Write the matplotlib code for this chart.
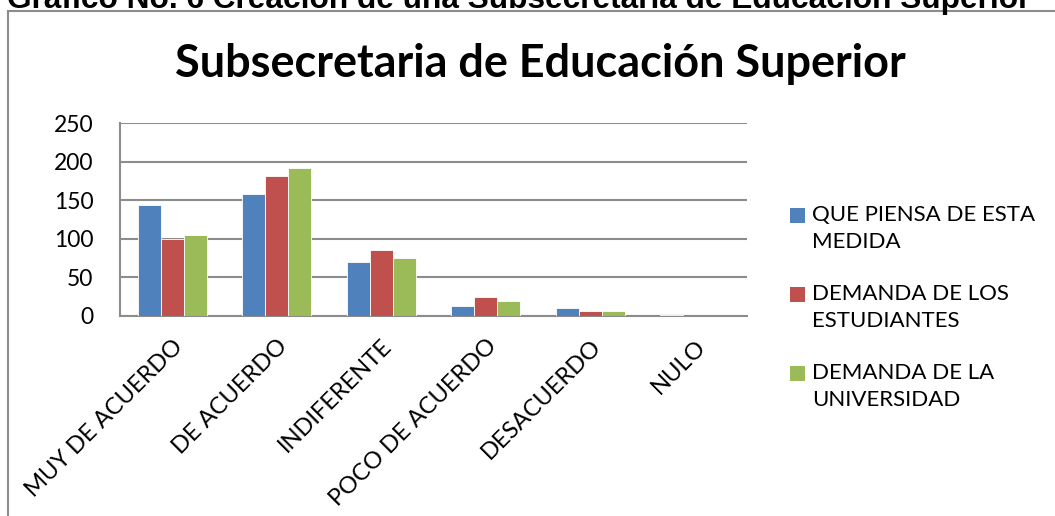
import numpy as np
import matplotlib
matplotlib.use("Agg")
import matplotlib.pyplot as plt
from matplotlib.patches import Rectangle

categorias = ["MUY DE ACUERDO", "DE ACUERDO", "INDIFERENTE",
              "POCO DE ACUERDO", "DESACUERDO", "NULO"]
series = ["QUE PIENSA DE ESTA\nMEDIDA", "DEMANDA DE LOS\nESTUDIANTES",
          "DEMANDA DE LA\nUNIVERSIDAD"]
que_piensa = [144, 158, 70, 13, 11, 1]
demanda_estudiantes = [100, 181, 86, 25, 7, 0]
demanda_universidad = [105, 192, 75, 20, 7, 0]
colores = ["#4F81BD", "#C0504D", "#9BBB59"]

W, H = 1055, 516
fig = plt.figure(figsize=(W / 100, H / 100), dpi=100)
plt.rcParams['font.family'] = ['Lato', 'DejaVu Sans']

# marco exterior del grafico
fig.patches.append(Rectangle((8 / W, -0.1), 1.2, 1 - 11 / H + 0.1,
                             transform=fig.transFigure, fill=False,
                             edgecolor="#8c8c8c", linewidth=1.5))

# titulo del documento, cortado arriba como en la captura
fig.text(7 / W, 1 - 8 / H,
         "Gráfico No. 6 Creación de una Subsecretaría de Educación Superior",
         family="Liberation Sans", fontweight="bold", fontsize=22.8,
         va="baseline", ha="left")

fig.text(540 / W, 1 - 64 / H, "Subsecretaria de Educación Superior",
         fontweight="bold", fontsize=32.4, ha="center", va="center")

ax = fig.add_axes([120 / W, 1 - 316 / H, 627 / W, 193 / H])
x = np.arange(len(categorias))
ancho = 0.22
datos = [que_piensa, demanda_estudiantes, demanda_universidad]
for i, (vals, c) in enumerate(zip(datos, colores)):
    ax.bar(x + (i - 1) * ancho, vals, ancho, color=c,
           edgecolor="white", linewidth=0.6, zorder=3)

ax.set_xlim(-0.5, len(categorias) - 0.5)
ax.set_ylim(0, 250)
ax.set_yticks(range(0, 251, 50))
ax.yaxis.grid(True, color="#8c8c8c", linewidth=1.5, zorder=0)
ax.set_axisbelow(True)
for s in ["top", "right"]:
    ax.spines[s].set_visible(False)
for s in ["left", "bottom"]:
    ax.spines[s].set_color("#8c8c8c")
    ax.spines[s].set_linewidth(1.5)
ax.tick_params(axis="both", length=0, labelsize=16.5)
ax.tick_params(axis="y", pad=19)
ax.set_xticks(x)
ax.set_xticklabels(categorias, rotation=45, ha="right",
                   rotation_mode="anchor", fontsize=17)
ax.tick_params(axis="x", pad=14)

# leyenda
for i, (nombre, c) in enumerate(zip(series, colores)):
    yc = 1 - (215 + i * 79) / H
    fig.patches.append(Rectangle((790 / W, yc - 7.5 / H), 15 / W, 15 / H,
                                 transform=fig.transFigure, facecolor=c,
                                 edgecolor="none"))
    fig.text(812 / W, yc + 10 / H, nombre, fontsize=16, va="top", ha="left",
             linespacing=1.45)

fig.savefig("out.png", dpi=100)
